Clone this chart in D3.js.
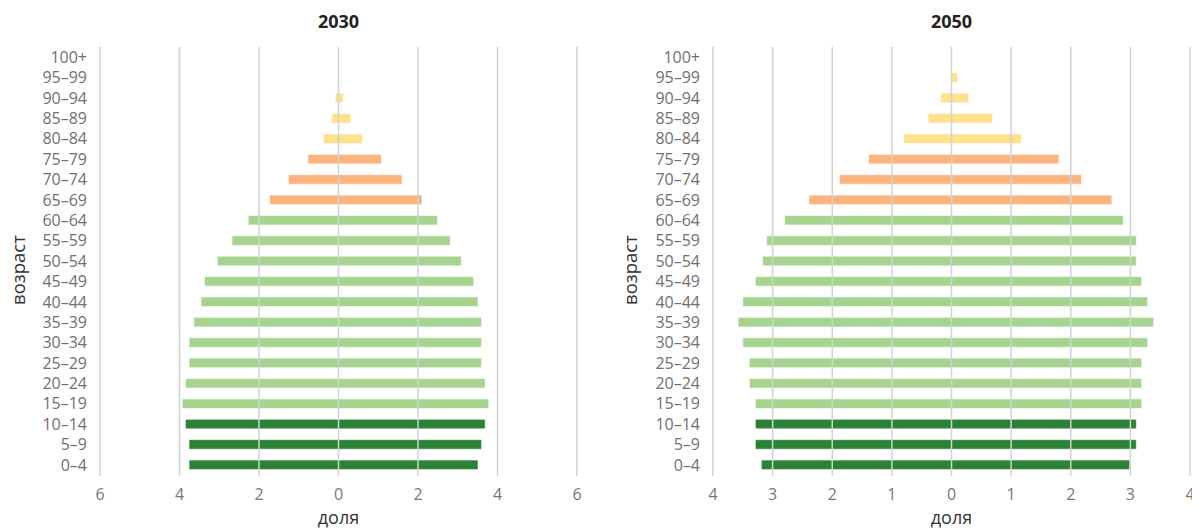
<!DOCTYPE html>
<html>
<head>
<meta charset="utf-8">
<script src="https://cdnjs.cloudflare.com/ajax/libs/d3/7.8.5/d3.min.js"></script>
<style>
  body { margin: 0; background: #fff; }
  text { font-family: "Open Sans", "Noto Sans", sans-serif; }
</style>
</head>
<body>
<script>
var width = 1192, height = 529;

// age groups, top to bottom
var ages = ["100+", "95–99", "90–94", "85–89", "80–84", "75–79", "70–74", "65–69",
  "60–64", "55–59", "50–54", "45–49", "40–44", "35–39", "30–34", "25–29",
  "20–24", "15–19", "10–14", "5–9", "0–4"];

// left side (drawn to the left of 0) and right side shares
var left2030  = [0, 0, 0.08, 0.17, 0.38, 0.77, 1.26, 1.74, 2.27, 2.68, 3.05, 3.37, 3.46, 3.64, 3.76, 3.76, 3.85, 3.93, 3.85, 3.76, 3.76];
var right2030 = [0, 0, 0.12, 0.31, 0.60, 1.08, 1.60, 2.10, 2.49, 2.81, 3.09, 3.40, 3.51, 3.60, 3.60, 3.60, 3.69, 3.78, 3.69, 3.60, 3.51];
var left2050  = [0, 0.01, 0.18, 0.39, 0.80, 1.39, 1.88, 2.39, 2.80, 3.10, 3.17, 3.29, 3.50, 3.58, 3.50, 3.39, 3.39, 3.29, 3.29, 3.29, 3.19];
var right2050 = [0, 0.10, 0.29, 0.69, 1.17, 1.80, 2.18, 2.69, 2.88, 3.10, 3.10, 3.19, 3.29, 3.39, 3.29, 3.19, 3.19, 3.19, 3.10, 3.10, 2.99];

var ticks2030 = [-6, -4, -2, 0, 2, 4, 6];
var ticks2050 = [-4, -3, -2, -1, 0, 1, 2, 3, 4];

// colour by age group
function barColor(age) {
  if (["0–4", "5–9", "10–14"].indexOf(age) >= 0) return "#2b8236";
  if (["65–69", "70–74", "75–79"].indexOf(age) >= 0) return "#fcb47f";
  if (["80–84", "85–89", "90–94", "95–99", "100+"].indexOf(age) >= 0) return "#fee08d";
  return "#a6d48e";
}

var svg = d3.select("body").append("svg")
  .attr("width", width)
  .attr("height", height);

function drawPanel(title, lefts, rights, ticks, x0, x1, labelX) {
  var x = d3.scaleLinear().domain([ticks[0], ticks[ticks.length - 1]]).range([x0, x1]);
  var y = d3.scaleBand().domain(ages).range([47, 475]).paddingInner(0.53).paddingOuter(0.265);

  var g = svg.append("g");

  g.append("text")
    .attr("x", x(0)).attr("y", 28)
    .attr("text-anchor", "middle")
    .attr("font-size", 18).attr("font-weight", "bold")
    .attr("fill", "#222")
    .text(title);

  var rows = ages.map(function(a, i) { return {age: a, l: lefts[i], r: rights[i]}; });

  g.selectAll("rect.bar")
    .data(rows.filter(function(d) { return d.l + d.r > 0; }))
    .enter().append("rect")
    .attr("class", "bar")
    .attr("x", function(d) { return x(-d.l); })
    .attr("y", function(d) { return y(d.age); })
    .attr("width", function(d) { return x(d.r) - x(-d.l); })
    .attr("height", y.bandwidth())
    .attr("fill", function(d) { return barColor(d.age); })
    .attr("stroke", "#fff").attr("stroke-opacity", 0.6).attr("stroke-width", 1);

  // gridlines drawn over the bars
  g.selectAll("line.grid")
    .data(ticks)
    .enter().append("line")
    .attr("x1", function(d) { return x(d); })
    .attr("x2", function(d) { return x(d); })
    .attr("y1", 47).attr("y2", 476)
    .attr("stroke", "#d2d2d2").attr("stroke-width", 1.5);

  // x tick labels (absolute values)
  g.selectAll("text.xt")
    .data(ticks)
    .enter().append("text")
    .attr("x", function(d) { return x(d); })
    .attr("y", 500)
    .attr("text-anchor", "middle")
    .attr("font-size", 16).attr("fill", "#777")
    .text(function(d) { return Math.abs(d); });

  // age labels
  g.selectAll("text.yt")
    .data(ages)
    .enter().append("text")
    .attr("x", x0 - 13)
    .attr("y", function(d) { return y(d) + y.bandwidth() / 2; })
    .attr("dy", "0.36em")
    .attr("text-anchor", "end")
    .attr("font-size", 16).attr("fill", "#707070")
    .text(function(d) { return d; });

  g.append("text")
    .attr("x", x(0)).attr("y", 524)
    .attr("text-anchor", "middle")
    .attr("font-size", 18).attr("fill", "#333")
    .text("доля");

  g.append("text")
    .attr("transform", "translate(" + labelX + ",270) rotate(-90)")
    .attr("text-anchor", "middle")
    .attr("font-size", 18.5).attr("fill", "#333")
    .text("возраст");
}

drawPanel("2030", left2030, right2030, ticks2030, 100, 577, 25);
drawPanel("2050", left2050, right2050, ticks2050, 713, 1190, 637);
</script>
</body>
</html>
